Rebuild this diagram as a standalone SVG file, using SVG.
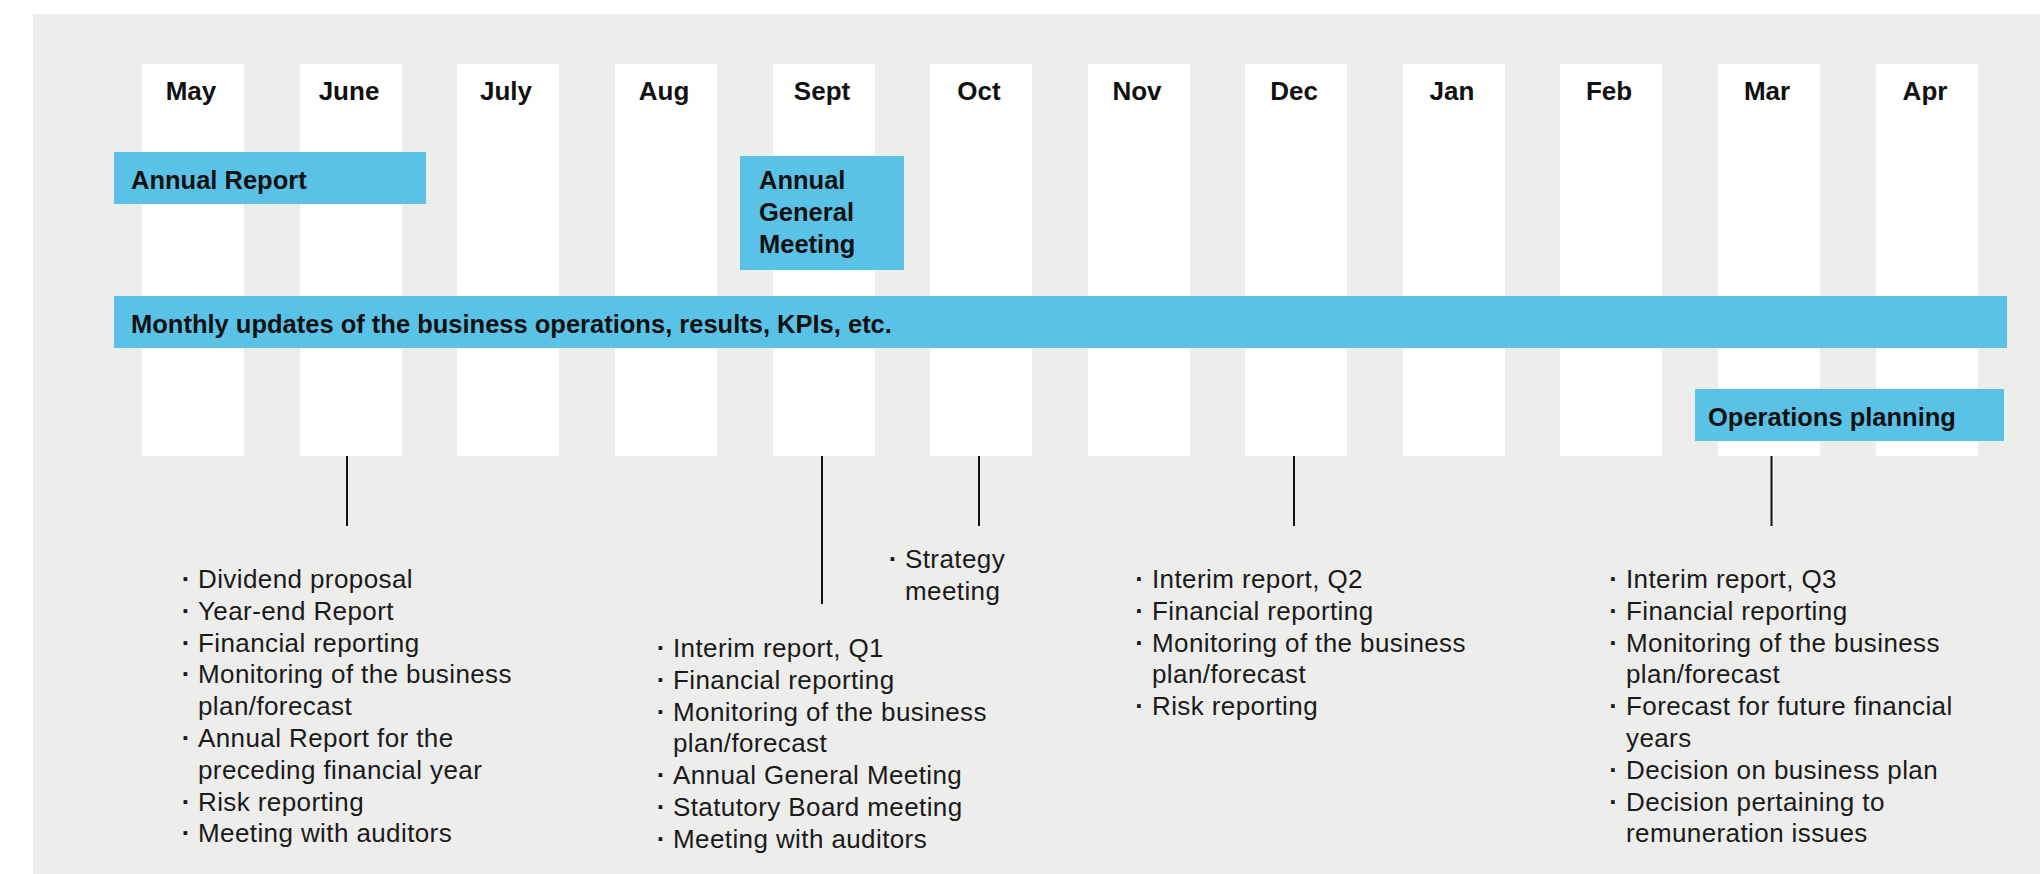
<svg xmlns="http://www.w3.org/2000/svg" width="2040" height="874" viewBox="0 0 2040 874">
<style>
.bg{fill:#ededeb}
.col{fill:#ffffff}
.bar{fill:#5bc2e7}
.month{font-family:"Liberation Sans",Arial,sans-serif;font-size:26px;font-weight:bold;fill:#111;text-anchor:middle}
.lbl{font-family:"Liberation Sans",Arial,sans-serif;font-size:25.5px;font-weight:bold;fill:#111}
.item{font-family:"Liberation Sans",Arial,sans-serif;font-size:26px;letter-spacing:0.4px;fill:#1a1a1a}
.dot{font-family:"Liberation Sans",Arial,sans-serif;font-size:26px;font-weight:bold;fill:#1a1a1a;text-anchor:middle}
.conn{stroke:#111;stroke-width:2;fill:none}
</style>
<rect class="bg" x="33" y="14" width="2007" height="860"/>
<g id="months">
<g id="m-may"><rect class="col" x="142" y="64" width="102" height="392"/><text class="month" x="191" y="100">May</text></g>
<g id="m-june"><rect class="col" x="300" y="64" width="102" height="392"/><text class="month" x="349" y="100">June</text></g>
<g id="m-july"><rect class="col" x="457" y="64" width="102" height="392"/><text class="month" x="506" y="100">July</text></g>
<g id="m-aug"><rect class="col" x="615" y="64" width="102" height="392"/><text class="month" x="664" y="100">Aug</text></g>
<g id="m-sept"><rect class="col" x="773" y="64" width="102" height="392"/><text class="month" x="822" y="100">Sept</text></g>
<g id="m-oct"><rect class="col" x="930" y="64" width="102" height="392"/><text class="month" x="979" y="100">Oct</text></g>
<g id="m-nov"><rect class="col" x="1088" y="64" width="102" height="392"/><text class="month" x="1137" y="100">Nov</text></g>
<g id="m-dec"><rect class="col" x="1245" y="64" width="102" height="392"/><text class="month" x="1294" y="100">Dec</text></g>
<g id="m-jan"><rect class="col" x="1403" y="64" width="102" height="392"/><text class="month" x="1452" y="100">Jan</text></g>
<g id="m-feb"><rect class="col" x="1560" y="64" width="102" height="392"/><text class="month" x="1609" y="100">Feb</text></g>
<g id="m-mar"><rect class="col" x="1718" y="64" width="102" height="392"/><text class="month" x="1767" y="100">Mar</text></g>
<g id="m-apr"><rect class="col" x="1876" y="64" width="102" height="392"/><text class="month" x="1925" y="100">Apr</text></g>
</g>
<g id="annual-report"><rect class="bar" x="114" y="152" width="312" height="52"/><text class="lbl" x="131" y="189">Annual Report</text></g>
<g id="agm"><rect class="bar" x="740" y="156" width="164" height="114"/><text class="lbl" x="759" y="189">Annual</text><text class="lbl" x="759" y="221">General</text><text class="lbl" x="759" y="253">Meeting</text></g>
<g id="monthly-updates"><rect class="bar" x="114" y="296" width="1893" height="52"/><text class="lbl" x="131" y="333">Monthly updates of the business operations, results, KPIs, etc.</text></g>
<g id="operations-planning"><rect class="bar" x="1695" y="389" width="309" height="52"/><text class="lbl" x="1708" y="425.5">Operations planning</text></g>
<g id="connectors">
<line class="conn" x1="347" y1="456" x2="347" y2="526"/>
<line class="conn" x1="822" y1="456" x2="822" y2="604"/>
<line class="conn" x1="979" y1="456" x2="979" y2="526"/>
<line class="conn" x1="1294" y1="456" x2="1294" y2="526"/>
<line class="conn" x1="1771.5" y1="456" x2="1771.5" y2="526"/>
</g>
<g id="list-june">
<text class="dot" x="186" y="588">·</text><text class="item" x="198" y="588">Dividend proposal</text>
<text class="dot" x="186" y="619.8">·</text><text class="item" x="198" y="619.8">Year-end Report</text>
<text class="dot" x="186" y="651.6">·</text><text class="item" x="198" y="651.6">Financial reporting</text>
<text class="dot" x="186" y="683.4">·</text><text class="item" x="198" y="683.4">Monitoring of the business</text>
<text class="item" x="198" y="715.2">plan/forecast</text>
<text class="dot" x="186" y="747">·</text><text class="item" x="198" y="747">Annual Report for the</text>
<text class="item" x="198" y="778.8">preceding financial year</text>
<text class="dot" x="186" y="810.6">·</text><text class="item" x="198" y="810.6">Risk reporting</text>
<text class="dot" x="186" y="842.4">·</text><text class="item" x="198" y="842.4">Meeting with auditors</text>
</g>
<g id="list-sept">
<text class="dot" x="661" y="657">·</text><text class="item" x="673" y="657">Interim report, Q1</text>
<text class="dot" x="661" y="688.8">·</text><text class="item" x="673" y="688.8">Financial reporting</text>
<text class="dot" x="661" y="720.6">·</text><text class="item" x="673" y="720.6">Monitoring of the business</text>
<text class="item" x="673" y="752.4">plan/forecast</text>
<text class="dot" x="661" y="784.2">·</text><text class="item" x="673" y="784.2">Annual General Meeting</text>
<text class="dot" x="661" y="816">·</text><text class="item" x="673" y="816">Statutory Board meeting</text>
<text class="dot" x="661" y="847.8">·</text><text class="item" x="673" y="847.8">Meeting with auditors</text>
</g>
<g id="list-oct">
<text class="dot" x="893" y="568">·</text><text class="item" x="905" y="568">Strategy</text>
<text class="item" x="905" y="600">meeting</text>
</g>
<g id="list-dec">
<text class="dot" x="1139.5" y="588">·</text><text class="item" x="1152" y="588">Interim report, Q2</text>
<text class="dot" x="1139.5" y="619.8">·</text><text class="item" x="1152" y="619.8">Financial reporting</text>
<text class="dot" x="1139.5" y="651.6">·</text><text class="item" x="1152" y="651.6">Monitoring of the business</text>
<text class="item" x="1152" y="683.4">plan/forecast</text>
<text class="dot" x="1139.5" y="715.2">·</text><text class="item" x="1152" y="715.2">Risk reporting</text>
</g>
<g id="list-mar">
<text class="dot" x="1613.5" y="588">·</text><text class="item" x="1626" y="588">Interim report, Q3</text>
<text class="dot" x="1613.5" y="619.8">·</text><text class="item" x="1626" y="619.8">Financial reporting</text>
<text class="dot" x="1613.5" y="651.6">·</text><text class="item" x="1626" y="651.6">Monitoring of the business</text>
<text class="item" x="1626" y="683.4">plan/forecast</text>
<text class="dot" x="1613.5" y="715.2">·</text><text class="item" x="1626" y="715.2">Forecast for future financial</text>
<text class="item" x="1626" y="747">years</text>
<text class="dot" x="1613.5" y="778.8">·</text><text class="item" x="1626" y="778.8">Decision on business plan</text>
<text class="dot" x="1613.5" y="810.6">·</text><text class="item" x="1626" y="810.6">Decision pertaining to</text>
<text class="item" x="1626" y="842.4">remuneration issues</text>
</g>
</svg>
